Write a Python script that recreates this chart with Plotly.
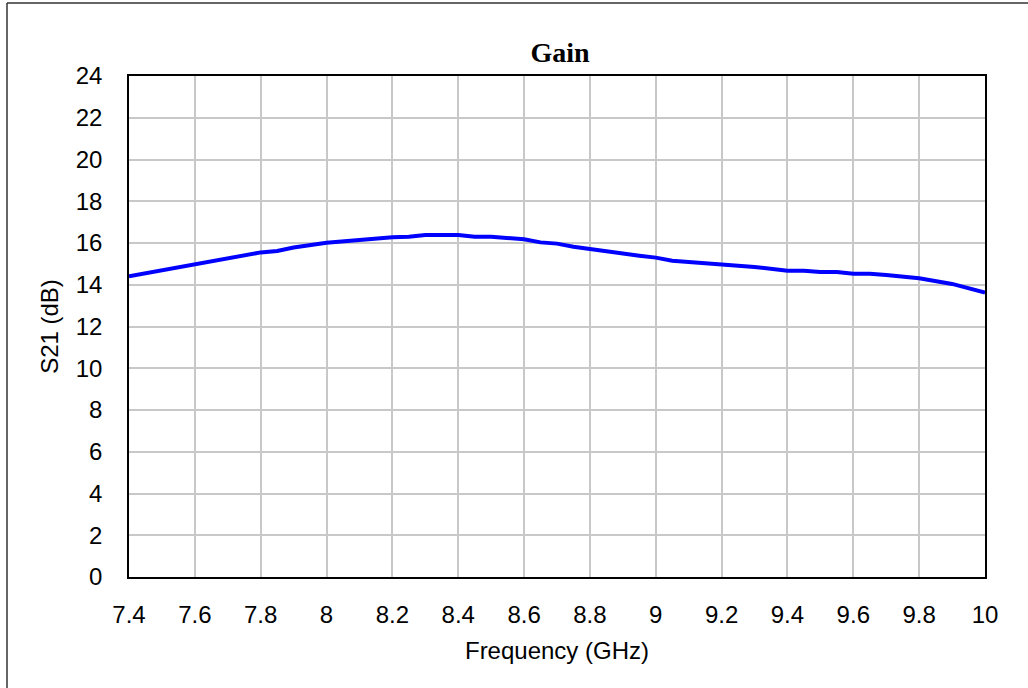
import plotly.graph_objects as go

freq = [7.4, 7.5, 7.6, 7.7, 7.8, 7.85, 7.9, 8.0, 8.1, 8.2, 8.25, 8.3, 8.4, 8.45, 8.5,
        8.6, 8.65, 8.7, 8.75, 8.8, 8.85, 8.9, 8.95, 9.0, 9.05, 9.1, 9.2, 9.3, 9.4,
        9.45, 9.5, 9.55, 9.6, 9.65, 9.7, 9.8, 9.9, 10.0]
s21 = [14.40, 14.68, 14.95, 15.25, 15.55, 15.62, 15.78, 16.01, 16.15, 16.28, 16.30, 16.38,
       16.38, 16.30, 16.30, 16.18, 16.03, 15.97, 15.82, 15.71, 15.58, 15.50, 15.39, 15.30,
       15.15, 15.09, 14.98, 14.85, 14.67, 14.67, 14.61, 14.61, 14.53, 14.53, 14.47, 14.31,
       14.04, 13.62]

x_ticks = [7.4, 7.6, 7.8, 8.0, 8.2, 8.4, 8.6, 8.8, 9.0, 9.2, 9.4, 9.6, 9.8, 10.0]
x_labels = ["7.4", "7.6", "7.8", "8", "8.2", "8.4", "8.6", "8.8", "9", "9.2", "9.4", "9.6", "9.8", "10"]
y_ticks = list(range(0, 25, 2))

fig = go.Figure()
fig.add_trace(go.Scatter(x=freq, y=s21, mode="lines",
                         line=dict(color="#0000ff", width=4), showlegend=False))

sans = "Liberation Sans, Arial, sans-serif"
axis_font = dict(family=sans, size=24, color="black")
fig.update_layout(
    width=1028, height=688,
    margin=dict(l=129, r=43, t=76, b=111),
    paper_bgcolor="white", plot_bgcolor="white",
    title=dict(text="<b>Gain</b>", x=(560 / 1028), xanchor="center", y=1 - 52 / 688, yanchor="middle",
               font=dict(family="Liberation Serif, Times New Roman, serif", size=28, color="black")),
    xaxis=dict(range=[7.4, 10.0], tickvals=x_ticks, ticktext=x_labels, tickfont=axis_font,
               showgrid=True, gridcolor="#c8c8c8", gridwidth=1.5,
               showline=True, linecolor="black", linewidth=1.5, mirror=True,
               ticks="outside", ticklen=15, tickcolor="rgba(0,0,0,0)",
               zeroline=False,
               title=dict(text="Frequency (GHz)", font=dict(family=sans, size=24, color="black"), standoff=16)),
    yaxis=dict(range=[0, 24], tickvals=y_ticks, tickfont=axis_font,
               showgrid=True, gridcolor="#c8c8c8", gridwidth=1.5,
               showline=True, linecolor="black", linewidth=1.5, mirror=True,
               ticks="outside", ticklen=20, tickcolor="rgba(0,0,0,0)",
               zeroline=False,
               title=dict(text="S21 (dB)", font=dict(family=sans, size=24, color="black"), standoff=10)),
)

# outer chart frame (only left and top edges are visible in the picture)
fx0 = (7 - 129) / 856
fx1 = (1028 - 129) / 856
fy_top = (577 - 3) / 501
fy_bot = (577 - 688) / 501
fig.add_shape(type="line", xref="paper", yref="paper", x0=fx0, x1=fx0, y0=fy_bot, y1=fy_top,
              line=dict(color="#333333", width=1.5), layer="below")
fig.add_shape(type="line", xref="paper", yref="paper", x0=fx0, x1=fx1, y0=fy_top, y1=fy_top,
              line=dict(color="#333333", width=1.5), layer="below")

fig.write_html("out.html", config={"displayModeBar": False},
               post_script="document.body.style.margin='0';document.body.style.overflow='hidden';")
